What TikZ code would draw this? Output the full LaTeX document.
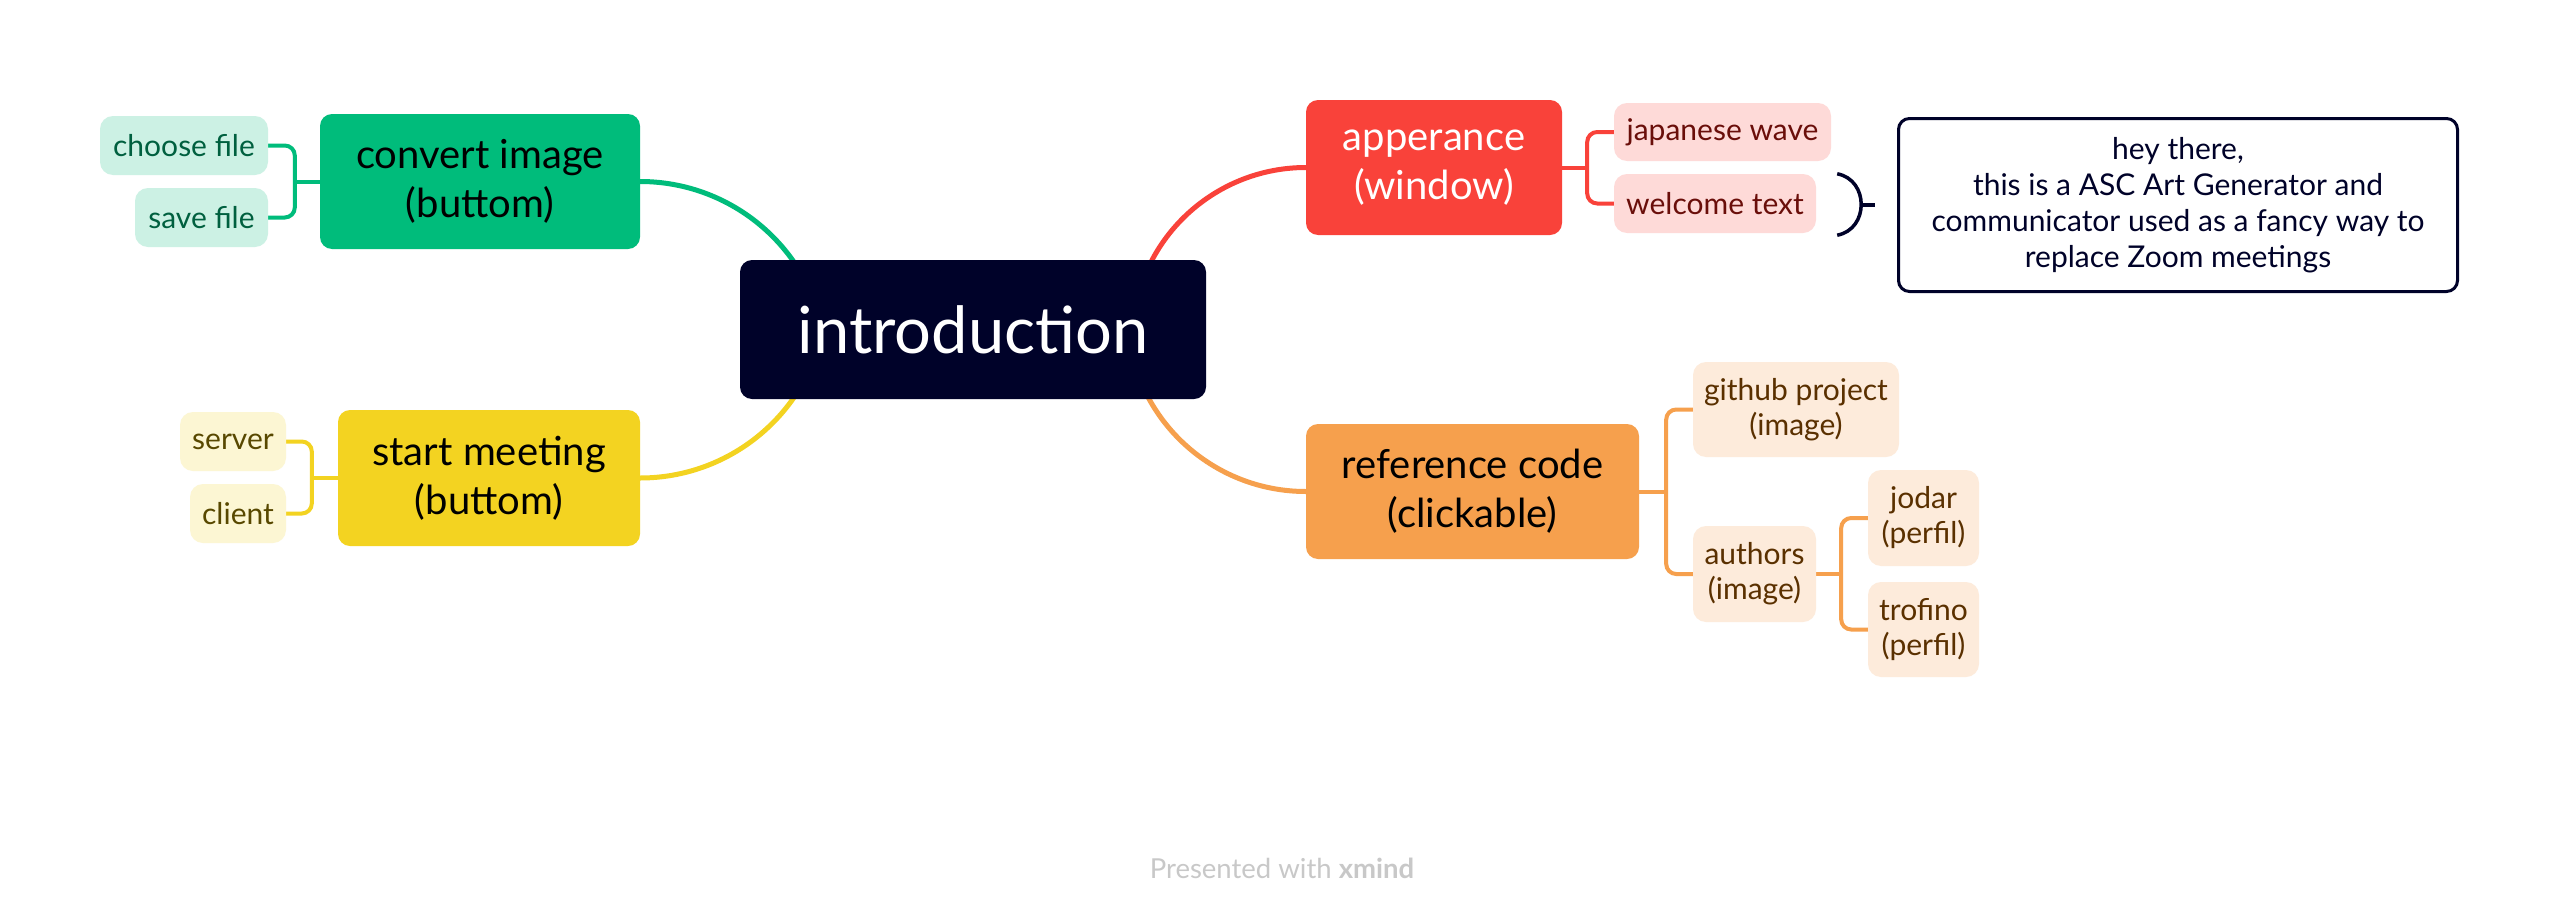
\documentclass[tikz,border=0pt]{standalone}
\usepackage{fontspec}
\setmainfont{Lato}
\usetikzlibrary{calc}
\definecolor{navy}{HTML}{000229}
\definecolor{gmain}{HTML}{00BC7B}
\definecolor{gsubf}{HTML}{CCF1E4}
\definecolor{gsubt}{HTML}{00603F}
\definecolor{ymain}{HTML}{F3D321}
\definecolor{ysubf}{HTML}{FCF6D3}
\definecolor{ysubt}{HTML}{584800}
\definecolor{rmain}{HTML}{F9423A}
\definecolor{rsubf}{HTML}{FEDAD8}
\definecolor{rsubt}{HTML}{6A0E0A}
\definecolor{omain}{HTML}{F6A04D}
\definecolor{osubf}{HTML}{FDEBDB}
\definecolor{osubt}{HTML}{5A3000}
\definecolor{foot}{HTML}{C8C8C8}
\pgfdeclarelayer{bg}
\pgfsetlayers{bg,main}
\tikzset{
  rootbox/.style={fill=navy, text=white, rounded corners=12pt, inner sep=0pt,
    minimum width=466pt, minimum height=139pt, font=\fontsize{65}{72}\selectfont},
  topicbox/.style={rounded corners=12pt, inner sep=0pt, align=center,
    minimum height=135pt, font=\fontsize{40}{49}\selectfont},
  subbox/.style={rounded corners=13pt, inner sep=0pt, align=center,
    font=\fontsize{30}{35}\selectfont},
  mainline/.style={line width=5pt},
  subline/.style={line width=4pt, rounded corners=10pt},
}
\begin{document}
\begin{tikzpicture}[x=1pt,y=-1pt]
\useasboundingbox (0,0) rectangle (2560,918);

% root
\node[rootbox] (intro) at (973,329.5) {introduction};

% main topics
\node[topicbox, fill=gmain, text=black, minimum width=320pt] (conv) at (480,181.5) {convert image\\(buttom)};
\node[topicbox, fill=ymain, text=black, minimum width=302pt, minimum height=136pt] (meet) at (489,478) {start meeting\\(buttom)};
\node[topicbox, fill=rmain, text=white, minimum width=256pt] (appear) at (1434,167.5) {apperance\\(window)};
\node[topicbox, fill=omain, text=black, minimum width=333pt] (refcode) at (1472.5,491.5) {reference code\\(clickable)};

% subtopics
\node[subbox, fill=gsubf, text=gsubt, minimum width=168pt, minimum height=59pt] (choose) at (184,145.5) {choose file};
\node[subbox, fill=gsubf, text=gsubt, minimum width=133pt, minimum height=59pt] (save) at (201.5,217.5) {save file};
\node[subbox, fill=ysubf, text=ysubt, minimum width=106pt, minimum height=59pt] (server) at (233,441.5) {server};
\node[subbox, fill=ysubf, text=ysubt, minimum width=96pt, minimum height=59pt] (client) at (238,513.5) {client};
\node[subbox, fill=rsubf, text=rsubt, minimum width=217pt, minimum height=58pt] (jwave) at (1722.5,132) {japanese wave};
\node[subbox, fill=rsubf, text=rsubt, minimum width=202pt, minimum height=59pt] (welcome) at (1715,203.5) {welcome text};
\node[subbox, fill=osubf, text=osubt, minimum width=206pt, minimum height=95pt] (github) at (1796,409.5) {github project\\(image)};
\node[subbox, fill=osubf, text=osubt, minimum width=123pt, minimum height=96pt] (authors) at (1754.5,574) {authors\\(image)};
\node[subbox, fill=osubf, text=osubt, minimum width=111pt, minimum height=96pt] (jodar) at (1923.5,518) {jodar\\(perfil)};
\node[subbox, fill=osubf, text=osubt, minimum width=111pt, minimum height=95pt] (trofino) at (1923.5,629.5) {trofino\\(perfil)};

% callout (summary)
\node[draw=navy, line width=3pt, rounded corners=11pt, inner sep=0pt, align=center,
  minimum width=559pt, minimum height=173pt, text=navy, font=\fontsize{30}{36}\selectfont]
  (callout) at (2178,205) {hey there,\\this is a ASC Art Generator and\\communicator used as a fancy way to\\replace Zoom meetings};

% footer
\node[text=foot, font=\fontsize{27.5}{30}\selectfont] (footer) at (1282,868) {Presented with \textbf{xmind}};

\begin{pgfonlayer}{bg}
\fill[white] (0,0) rectangle (2560,918);
% main connectors
\draw[mainline, gmain] (conv.east) arc[start angle=-90, end angle=-20, radius=187];
\draw[mainline, ymain] (meet.east) arc[start angle=90, end angle=20, radius=187];
\draw[mainline, rmain] (appear.west) arc[start angle=-90, end angle=-160, radius=174];
\draw[mainline, omain] (refcode.west) arc[start angle=90, end angle=160, radius=179];

% sub connectors
\draw[subline, gmain] (choose.east) -| ($(conv.west)+(-25,0)$) |- (save.east);
\draw[subline, gmain] (conv.west) -- ++(-25,0);
\draw[subline, ymain] (server.east) -| ($(meet.west)+(-26,0)$) |- (client.east);
\draw[subline, ymain] (meet.west) -- ++(-26,0);
\draw[subline, rmain] (jwave.west) -| ($(appear.east)+(25,0)$) |- (welcome.west);
\draw[subline, rmain] (appear.east) -- ++(25,0);
\draw[subline, omain] (github.west) -| ($(refcode.east)+(27,0)$) |- (authors.west);
\draw[subline, omain] (refcode.east) -- ++(27,0);
\draw[subline, omain] (jodar.west) -| ($(authors.east)+(25,0)$) |- (trofino.west);
\draw[subline, omain] (authors.east) -- ++(25,0);
\end{pgfonlayer}

% summary bracket
\coordinate (brT) at ($(welcome.north east)+(21,0)$);
\coordinate (brB) at ($(welcome.south east)+(21,2)$);
\coordinate (brM) at ($(welcome.east)+(45,1.5)$);
\coordinate (brE) at ($(welcome.east)+(59,1.5)$);
\draw[navy, line width=3.5pt] (brT) .. controls ($(brT)+(32,6)$) and ($(brB)+(32,-6)$) .. (brB);
\draw[navy, line width=3.5pt] (brM) -- (brE);
\end{tikzpicture}
\end{document}
